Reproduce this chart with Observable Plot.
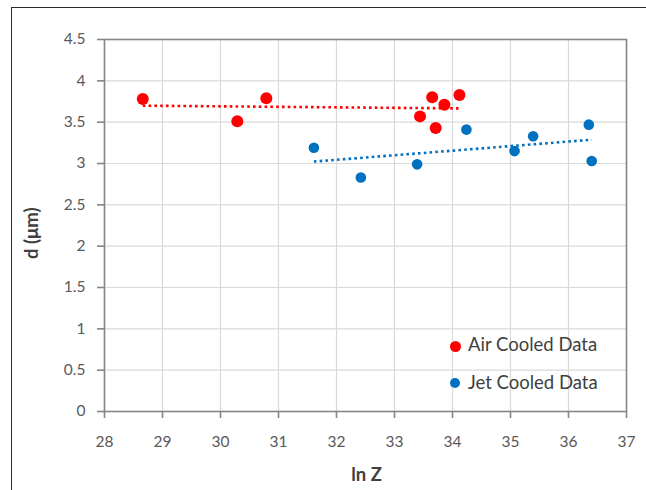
<!DOCTYPE html>
<html>
<head>
<meta charset="utf-8">
<script src="https://cdn.jsdelivr.net/npm/d3@7"></script>
<script src="https://cdn.jsdelivr.net/npm/@observablehq/plot@0.6"></script>
<style>
  html, body { margin: 0; padding: 0; background: #fff; overflow: hidden; }
  #wrap { position: relative; width: 646px; height: 490px; overflow: hidden; font-family: Lato, "Open Sans", sans-serif; }
  #border { position: absolute; left: 11px; top: 7px; width: 700px; height: 600px; border: 1.5px solid #2b2b2b; box-sizing: border-box; }
  #chart { position: absolute; left: 0; top: 0; }
  .title { position: absolute; font-weight: bold; color: #404040; font-size: 18.5px; line-height: 18.5px; white-space: nowrap; text-align: center; }
  .leg { position: absolute; font-size: 18.5px; line-height: 18.5px; color: #404040; white-space: nowrap; }
  .legdot { position: absolute; border-radius: 50%; }
</style>
</head>
<body>
<div id="wrap">
  <div id="border"></div>
  <div id="chart"></div>
</div>
<script>
// ---- data ----
const airX = [28.66, 30.29, 30.79, 33.44, 33.65, 33.71, 33.86, 34.12];
const airY = [3.78, 3.51, 3.79, 3.57, 3.80, 3.43, 3.71, 3.83];
const jetX = [31.61, 32.42, 33.39, 34.24, 35.07, 35.39, 36.35, 36.40];
const jetY = [3.19, 2.83, 2.99, 3.41, 3.15, 3.33, 3.47, 3.03];
const xTicks = [28, 29, 30, 31, 32, 33, 34, 35, 36, 37];
const yTicks = [0, 0.5, 1, 1.5, 2, 2.5, 3, 3.5, 4, 4.5];
const seriesNames = ["Air Cooled Data", "Jet Cooled Data"];
const seriesColors = ["#ff0000", "#0070c0"];
const xTitle = "ln Z";
const yTitle = "d (μm)";

const air = airX.map((x, i) => ({x, y: airY[i]}));
const jet = jetX.map((x, i) => ({x, y: jetY[i]}));

const chart = Plot.plot({
  width: 646,
  height: 490,
  marginLeft: 104,
  marginRight: 20,
  marginTop: 39,
  marginBottom: 79,
  x: {domain: [28, 37]},
  y: {domain: [0, 4.5]},
  style: {fontFamily: "Lato, sans-serif", fontSize: "15.5px", color: "#595959", background: "transparent"},
  marks: [
    Plot.gridX(xTicks, {stroke: "#d9d9d9", strokeOpacity: 1, strokeWidth: 1.2}),
    Plot.gridY(yTicks, {stroke: "#d9d9d9", strokeOpacity: 1, strokeWidth: 1.2}),
    Plot.frame({stroke: "#868686", strokeWidth: 1.6}),
    Plot.axisX(xTicks, {tickSize: 7, tickPadding: 17, label: null, stroke: "#868686", strokeWidth: 1.6, fill: "#595959", tickFormat: d => String(d)}),
    Plot.axisY(yTicks, {tickSize: 7, tickPadding: 12, label: null, stroke: "#868686", strokeWidth: 1.6, fill: "#595959", tickFormat: d => String(d)}),
    Plot.dot(jet, {x: "x", y: "y", r: 5.3, fill: seriesColors[1], stroke: null}),
    Plot.dot(air, {x: "x", y: "y", r: 6, fill: seriesColors[0], stroke: null}),
    Plot.linearRegressionY(air, {x: "x", y: "y", ci: 0, stroke: seriesColors[0], strokeWidth: 2.6, strokeDasharray: "2.6 3.2", strokeLinecap: "butt"}),
    Plot.linearRegressionY(jet, {x: "x", y: "y", ci: 0, stroke: seriesColors[1], strokeWidth: 2.6, strokeDasharray: "2.6 3.2", strokeLinecap: "butt"})
  ]
});
document.getElementById("chart").appendChild(chart);

const wrap = document.getElementById("wrap");
// axis titles
const xt = document.createElement("div");
xt.className = "title";
xt.textContent = xTitle;
xt.style.left = (366.5 - 100) + "px";
xt.style.width = "200px";
xt.style.top = "465px";
wrap.appendChild(xt);

const yt = document.createElement("div");
yt.className = "title";
yt.textContent = yTitle;
yt.style.width = "120px";
yt.style.height = "18.5px";
yt.style.left = (31 - 60) + "px";
yt.style.top = (233 - 9.25) + "px";
yt.style.transform = "rotate(-90deg)";
yt.style.transformOrigin = "50% 50%";
wrap.appendChild(yt);

// legend
const legRows = [
  {dx: 455, dy: 346, r: 5.5, tx: 468, base: 351.7},
  {dx: 454.5, dy: 383, r: 5, tx: 468, base: 389.3}
];
seriesNames.forEach((name, i) => {
  const row = legRows[i];
  const dot = document.createElement("div");
  dot.className = "legdot";
  dot.style.background = seriesColors[i];
  dot.style.width = dot.style.height = (2 * row.r) + "px";
  dot.style.left = (row.dx - row.r) + "px";
  dot.style.top = (row.dy - row.r) + "px";
  wrap.appendChild(dot);
  const t = document.createElement("div");
  t.className = "leg";
  t.textContent = name;
  t.style.left = row.tx + "px";
  t.style.top = (row.base - 16.4) + "px";
  wrap.appendChild(t);
});
</script>
</body>
</html>
